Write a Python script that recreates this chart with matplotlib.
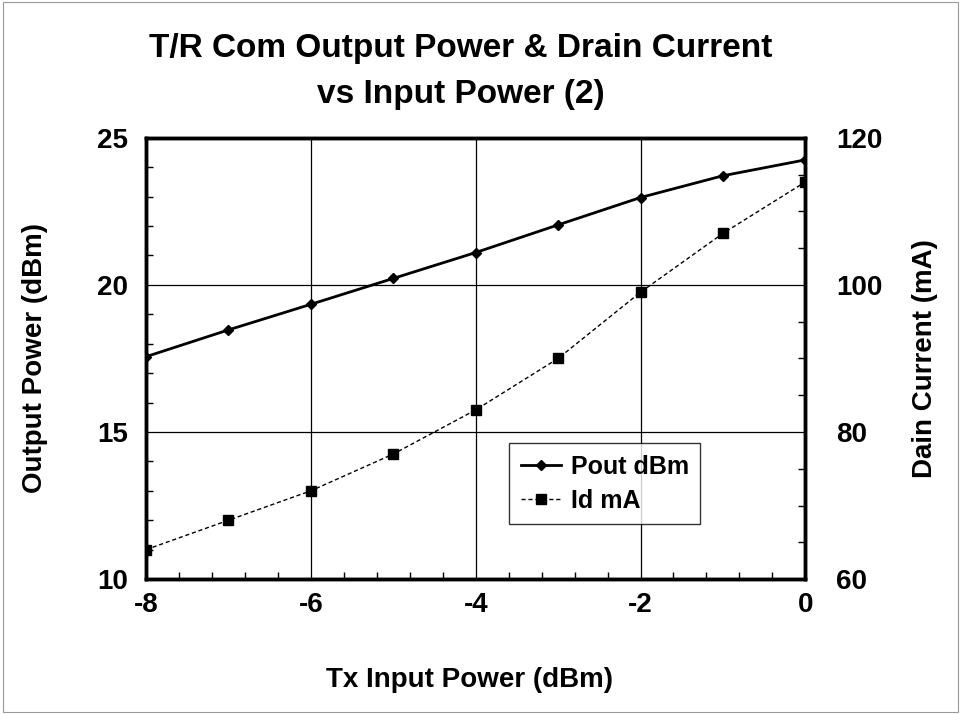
import numpy as np
import matplotlib.pyplot as plt
from matplotlib.ticker import MultipleLocator

plt.rcParams['font.family'] = ['Liberation Sans', 'DejaVu Sans']
plt.rcParams['font.weight'] = 'bold'
plt.rcParams['axes.unicode_minus'] = False

pin = [-8, -7, -6, -5, -4, -3, -2, -1, 0]
pout = [17.56, 18.47, 19.34, 20.22, 21.1, 22.04, 22.97, 23.71, 24.25]
idrain = [64.0, 68.0, 72.0, 77.0, 83.0, 90.0, 99.0, 107.0, 114.0]

fig = plt.figure(figsize=(9.61, 7.14), dpi=100)
ax = fig.add_axes([0.152, 0.189, 0.686, 0.618])
ax2 = ax.twinx()

l1, = ax.plot(pin, pout, '-', color='black', lw=2, marker='D', ms=5, label='Pout dBm')
l2, = ax2.plot(pin, idrain, '--', color='black', lw=1, dashes=(3, 2), marker='s', ms=7, label='Id mA')

ax.set_xlim(-8, 0)
ax.set_ylim(10, 25)
ax2.set_ylim(60, 120)
ax.set_xticks([-8, -6, -4, -2, 0])
ax.set_yticks([10, 15, 20, 25])
ax2.set_yticks([60, 80, 100, 120])
ax.xaxis.set_minor_locator(MultipleLocator(0.4))
ax.yaxis.set_minor_locator(MultipleLocator(1))
ax2.yaxis.set_minor_locator(MultipleLocator(5))
ax.grid(True, which='major', color='black', lw=0.9)

for a in (ax, ax2):
    for s in a.spines.values():
        s.set_linewidth(2.5)
    a.tick_params(which='both', direction='in', labelsize=20)
    a.tick_params(which='major', length=0)
    a.tick_params(which='minor', length=5, width=1)
ax.tick_params(axis='x', pad=9)
ax.tick_params(axis='y', pad=13)
ax2.tick_params(axis='y', pad=22)

ax.set_xlabel('Tx Input Power (dBm)', fontsize=20, fontweight='bold')
ax.set_ylabel('Output Power (dBm)', fontsize=20, fontweight='bold')
ax2.set_ylabel('Dain Current (mA)', fontsize=20, fontweight='bold')
ax.xaxis.set_label_coords(0.49, -0.229)
ax.yaxis.set_label_coords(-0.168, 0.5)
ax2.yaxis.set_label_coords(1.182, 0.5)
for lab in (ax.xaxis.label, ax.yaxis.label, ax2.yaxis.label):
    lab.set_verticalalignment('center')

fig.text(0.479, 0.9, 'T/R Com Output Power & Drain Current\nvs Input Power (2)',
         fontsize=24, fontweight='bold', ha='center', va='center', linespacing=1.6)

leg = ax2.legend(handles=[l1, l2], loc='lower left', bbox_to_anchor=(0.551, 0.125),
                 fontsize=18, frameon=True, fancybox=False, edgecolor='black',
                 handlelength=1.6, handletextpad=0.4, borderpad=0.45, labelspacing=0.4,
                 borderaxespad=0)
leg.get_frame().set_linewidth(1)

fig.patches.append(plt.Rectangle((0.003, 0.003), 0.994, 0.994, transform=fig.transFigure,
                                 fill=False, edgecolor='#999999', lw=0.8))

fig.savefig('out.png', dpi=100)
